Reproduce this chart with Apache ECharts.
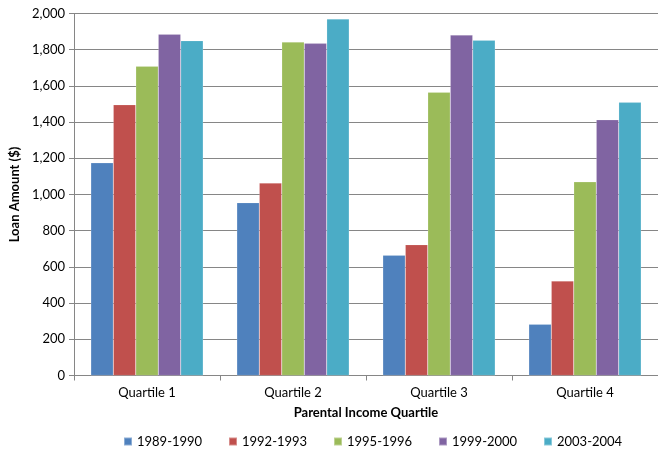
<!DOCTYPE html>
<html>
<head>
<meta charset="utf-8">
<script src="https://cdn.jsdelivr.net/npm/echarts@6/dist/echarts.min.js"></script>
<style>
html,body{margin:0;padding:0;background:#fff;}
#main{width:658px;height:450px;}
</style>
</head>
<body>
<div id="main"></div>
<script>
var categories = ['Quartile 1', 'Quartile 2', 'Quartile 3', 'Quartile 4'];
var seriesNames = ['1989-1990', '1992-1993', '1995-1996', '1999-2000', '2003-2004'];
var s1989 = [1175, 955, 665, 283];
var s1992 = [1496, 1063, 723, 522];
var s1995 = [1709, 1842, 1565, 1070];
var s1999 = [1886, 1835, 1881, 1413];
var s2003 = [1850, 1970, 1852, 1509];
var yTicks = [0, 200, 400, 600, 800, 1000, 1200, 1400, 1600, 1800, 2000];

var colors = ['#4F81BD', '#C0504D', '#9BBB59', '#8064A2', '#4BACC6'];
var allData = [s1989, s1992, s1995, s1999, s2003];
var font = 'Lato, "Liberation Sans", sans-serif';

var legends = seriesNames.map(function (n, i) {
  return {
    data: [n],
    left: 123 + i * 105, top: 435,
    padding: 0,
    itemWidth: 8, itemHeight: 8,
    icon: 'rect',
    textStyle: { fontFamily: font, fontSize: 13, color: '#000' }
  };
});

var chart = echarts.init(document.getElementById('main'));
chart.setOption({
  animation: false,
  color: colors,
  grid: { left: 72, top: 13.5, width: 588, height: 362, containLabel: false },
  legend: legends,
  xAxis: {
    type: 'category',
    data: categories,
    name: 'Parental Income Quartile',
    nameLocation: 'middle',
    nameGap: 31,
    nameTextStyle: { fontFamily: font, fontSize: 13, fontWeight: 'bold', color: '#000' },
    axisLine: { lineStyle: { color: '#868686', width: 1 } },
    axisTick: { show: true, length: 5, lineStyle: { color: '#868686' } },
    axisLabel: { fontFamily: font, fontSize: 13, color: '#000', margin: 11 }
  },
  yAxis: {
    type: 'value',
    min: 0, max: 2000, interval: 200,
    name: 'Loan Amount ($)',
    nameLocation: 'middle',
    nameGap: 52,
    nameTextStyle: { fontFamily: font, fontSize: 13, fontWeight: 'bold', color: '#000' },
    axisLine: { show: true, lineStyle: { color: '#868686', width: 1 } },
    axisTick: { show: true, length: 5, lineStyle: { color: '#868686' } },
    axisLabel: {
      fontFamily: font, fontSize: 13, color: '#000', margin: 9,
      formatter: function (v) { return yTicks.indexOf(v) >= 0 ? v.toLocaleString('en-US') : ''; }
    },
    splitLine: { show: true, lineStyle: { color: '#868686', width: 1 } }
  },
  series: seriesNames.map(function (n, i) {
    return {
      name: n,
      type: 'bar',
      data: allData[i],
      barGap: '0%',
      barCategoryGap: '23%',
      itemStyle: { borderColor: 'rgba(255,255,255,0.35)', borderWidth: 0.5 }
    };
  })
});
</script>
</body>
</html>
